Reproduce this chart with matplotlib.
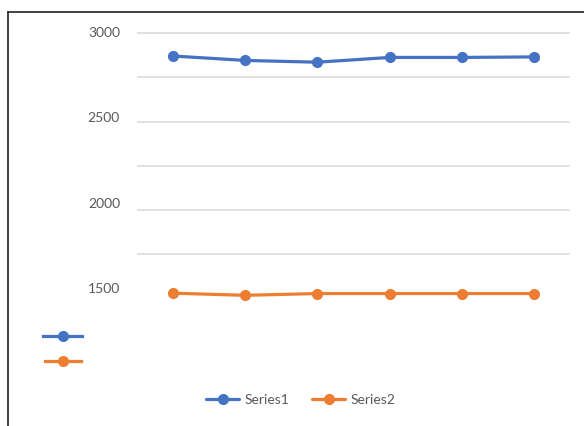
import matplotlib.pyplot as plt
from matplotlib.lines import Line2D
import matplotlib.transforms as mtransforms

plt.rcParams['font.family'] = ['Lato', 'DejaVu Sans']

categories = [1, 2, 3, 4, 5, 6]
series1 = [2870, 2845, 2835, 2862, 2862, 2865]
series2 = [1530, 1518, 1528, 1528, 1528, 1528]
series_names = ['Series1', 'Series2']
tick_values = [3000, 2500, 2000, 1500]
tick_labels = ['3000', '2500', '2000', '1500']
grid_values = [3000, 2750, 2500, 2250, 2000, 1750]

blue = '#4472C4'
orange = '#ED7D31'
W, H = 584, 426

fig = plt.figure(figsize=(W / 100, H / 100), dpi=100)
fig.patch.set_facecolor('white')

# plot area in pixels: x 137..570, y 20..320 (from top)
ax = fig.add_axes([137 / W, 1 - 320 / H, (570 - 137) / W, 300 / H])
px_per_unit = 88.5 / 500
ax.set_ylim(1500 - 21.5 / px_per_unit, 3000 + 13 / px_per_unit)
ax.set_xlim(-0.5, len(categories) - 0.5)
for s in ax.spines.values():
    s.set_visible(False)
ax.set_xticks([])
ax.set_yticks([])

for g in grid_values:
    ax.axhline(g, color='#d9d9d9', lw=1.1, zorder=0)

x = range(len(categories))
l1, = ax.plot(x, series1, color=blue, lw=2.3, marker='o', markersize=7,
              solid_capstyle='round', label=series_names[0])
l2, = ax.plot(x, series2, color=orange, lw=2.3, marker='o', markersize=7,
              solid_capstyle='round', label=series_names[1])

# value axis labels, drifting slightly upward from their gridlines
for v, lab in zip(tick_values, tick_labels):
    off = mtransforms.ScaledTranslation(-17 / 100, (3000 - v) / 500 * 3.2 / 100,
                                        fig.dpi_scale_trans)
    tr = mtransforms.blended_transform_factory(ax.transAxes, ax.transData) + off
    ax.text(0, v, lab, transform=tr, ha='right', va='center',
            fontsize=10, color='#595959')

ax.legend(handles=[l1, l2], loc='center', ncol=2, frameon=False,
          bbox_to_anchor=(301 / W, 1 - 400 / H), bbox_transform=fig.transFigure,
          fontsize=10, labelcolor='#595959', handlelength=2.4,
          handletextpad=0.4, columnspacing=1.6)

# stray legend keys on the left
for (x0, x1, y, c) in [(43, 82, 336, blue), (45, 81, 361, orange)]:
    fig.add_artist(Line2D([x0 / W, x1 / W], [1 - y / H, 1 - y / H],
                          transform=fig.transFigure, color=c, lw=2.3))
    fig.add_artist(Line2D([(x0 + x1) / 2 / W], [1 - y / H], transform=fig.transFigure,
                          color=c, marker='o', markersize=7))

# chart border (top and left edges)
fig.add_artist(Line2D([8 / W, 1], [1 - 12 / H, 1 - 12 / H],
                      transform=fig.transFigure, color='#333333', lw=1.3))
fig.add_artist(Line2D([8 / W, 8 / W], [1 - 12 / H, 0],
                      transform=fig.transFigure, color='#333333', lw=1.3))

fig.savefig('out.png', dpi=100)
